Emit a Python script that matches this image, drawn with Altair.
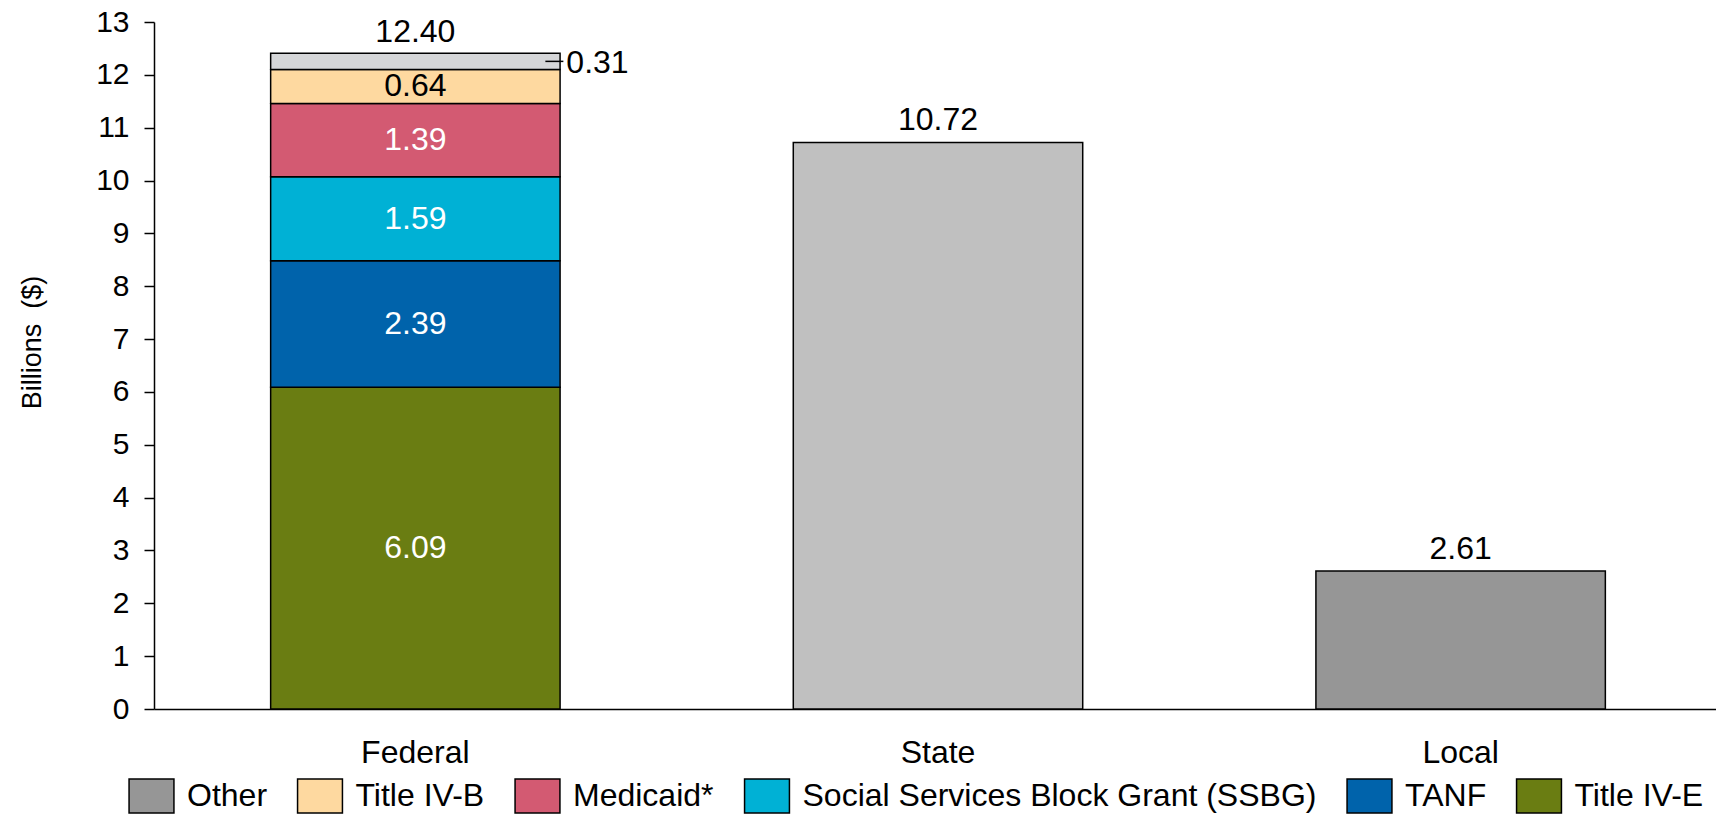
import altair as alt
import pandas as pd

# Funding sources shown along the x axis
sources = ["Federal", "State", "Local"]

# Federal funding broken down by program (bottom of the stack first), in billions
federal_programs = ["Title IV-E", "TANF", "Social Services Block Grant (SSBG)",
                    "Medicaid*", "Title IV-B", "Other"]
federal_values = [6.09, 2.39, 1.59, 1.39, 0.64, 0.31]
federal_label_colors = ["white", "white", "white", "white", "black", "black"]

# Single-segment totals for the non-federal sources
state_value = 10.72
local_value = 2.61

# Totals printed above each bar
total_labels = ["12.40", "10.72", "2.61"]
total_values = [12.40, 10.72, 2.61]

# Legend entries and their colours
legend_entries = ["Other", "Title IV-B", "Medicaid*",
                  "Social Services Block Grant (SSBG)", "TANF", "Title IV-E"]
legend_colors = ["#969696", "#fed9a0", "#d35a72", "#00b1d5", "#0063ab", "#6a7d12"]
federal_other_color = "#d5d6d8"
state_color = "#c0c0c0"

FONT = "Liberation Sans"

# ---- tables built from the arrays above ----
rows = []
running = 0.0
for i, (prog, val, tcol) in enumerate(zip(federal_programs, federal_values, federal_label_colors)):
    key = "Federal other" if prog == "Other" else prog
    rows.append({"source": "Federal", "key": key, "program": prog, "value": val,
                 "order": i, "mid": running + val / 2, "label": f"{val:.2f}", "tcolor": tcol})
    running += val
rows.append({"source": "State", "key": "State", "program": "State", "value": state_value,
             "order": 0, "mid": state_value / 2, "label": f"{state_value:.2f}", "tcolor": "black"})
rows.append({"source": "Local", "key": "Other", "program": "Local", "value": local_value,
             "order": 0, "mid": local_value / 2, "label": f"{local_value:.2f}", "tcolor": "black"})
bars = pd.DataFrame(rows)

inside = bars[(bars["source"] == "Federal") & (bars["program"] != "Other")]
outside = bars[(bars["source"] == "Federal") & (bars["program"] == "Other")]
totals = pd.DataFrame({"source": sources, "total": total_values, "total_label": total_labels})

color_domain = legend_entries + ["Federal other", "State"]
color_range = legend_colors + [federal_other_color, state_color]

x_scale = alt.Scale(domain=sources, range=[0, 1568], paddingInner=0.4462, paddingOuter=0.2232)

x_enc = alt.X(
    "source:N", scale=x_scale, sort=sources,
    axis=alt.Axis(title=None, labelAngle=0, labelFontSize=32, labelFont=FONT,
                  labelColor="black", labelPadding=28, ticks=False, tickSize=0,
                  domainColor="black", domainWidth=1.5, grid=False,
                  labelBaseline="top"),
)
x_plain = alt.X("source:N", scale=x_scale, sort=sources)

y_scale = alt.Scale(domain=[0, 13], nice=False, zero=True)

bar_layer = alt.Chart(bars).mark_bar(stroke="black", strokeWidth=1.5).encode(
    x=x_enc,
    y=alt.Y(
        "value:Q", stack="zero", scale=y_scale,
        axis=alt.Axis(values=list(range(14)), title="Billions\u00a0 ($)",
                      titleFont=FONT, titleFontSize=27, titleFontWeight="normal",
                      titleColor="black", titleX=-122, titleY=320, titleAngle=-90,
                      titleAlign="center", titleBaseline="middle",
                      labelFont=FONT, labelFontSize=30, labelColor="black",
                      labelPadding=15, tickSize=10, tickColor="black", tickWidth=1.5,
                      domainColor="black", domainWidth=1.5, grid=False),
    ),
    color=alt.Color(
        "key:N",
        scale=alt.Scale(domain=color_domain, range=color_range),
        legend=alt.Legend(
            values=legend_entries, title=None, orient="none", direction="horizontal",
            legendX=-20.5, legendY=756, columns=6, gridAlign="each", padding=0,
            symbolType="M-1.32,-1H1.32V1H-1.32Z", symbolSize=1156,
            symbolStrokeColor="black", symbolStrokeWidth=1.5, symbolOpacity=1,
            labelFont=FONT, labelFontSize=32, labelColor="black", labelLimit=1000,
            labelOffset=17.5, columnPadding=26.5,
        ),
    ),
    order=alt.Order("order:Q"),
)

inside_labels = alt.Chart(inside).mark_text(
    font=FONT, fontSize=32, align="center", baseline="middle"
).encode(
    x=x_plain,
    y=alt.Y("mid:Q", stack=None, scale=y_scale),
    text="label:N",
    fill=alt.Fill("tcolor:N", scale=None),
)

outside_label = alt.Chart(outside).mark_text(
    font=FONT, fontSize=32, align="left", baseline="middle", xOffset=151, dy=2,
    color="black"
).encode(
    x=x_plain,
    y=alt.Y("mid:Q", stack=None, scale=y_scale),
    text="label:N",
)

leader = alt.Chart(outside).mark_rule(
    color="black", strokeWidth=1.5, xOffset=130, x2Offset=148
).encode(
    x=x_plain,
    x2=alt.X2("source:N"),
    y=alt.Y("mid:Q", stack=None, scale=y_scale),
)

total_text = alt.Chart(totals).mark_text(
    font=FONT, fontSize=32, align="center", baseline="alphabetic", dy=-12, color="black"
).encode(
    x=x_plain,
    y=alt.Y("total:Q", stack=None, scale=y_scale),
    text="total_label:N",
)

chart = alt.layer(bar_layer, inside_labels, outside_label, leader, total_text).properties(
    width=1562,
    height=687,
    autosize=alt.AutoSizeParams(type="none"),
    padding={"left": 154, "top": 22, "right": 0, "bottom": 105},
    background="white",
).configure_view(stroke=None)

chart.save("out.html", embed_options={"renderer": "svg", "actions": False})
